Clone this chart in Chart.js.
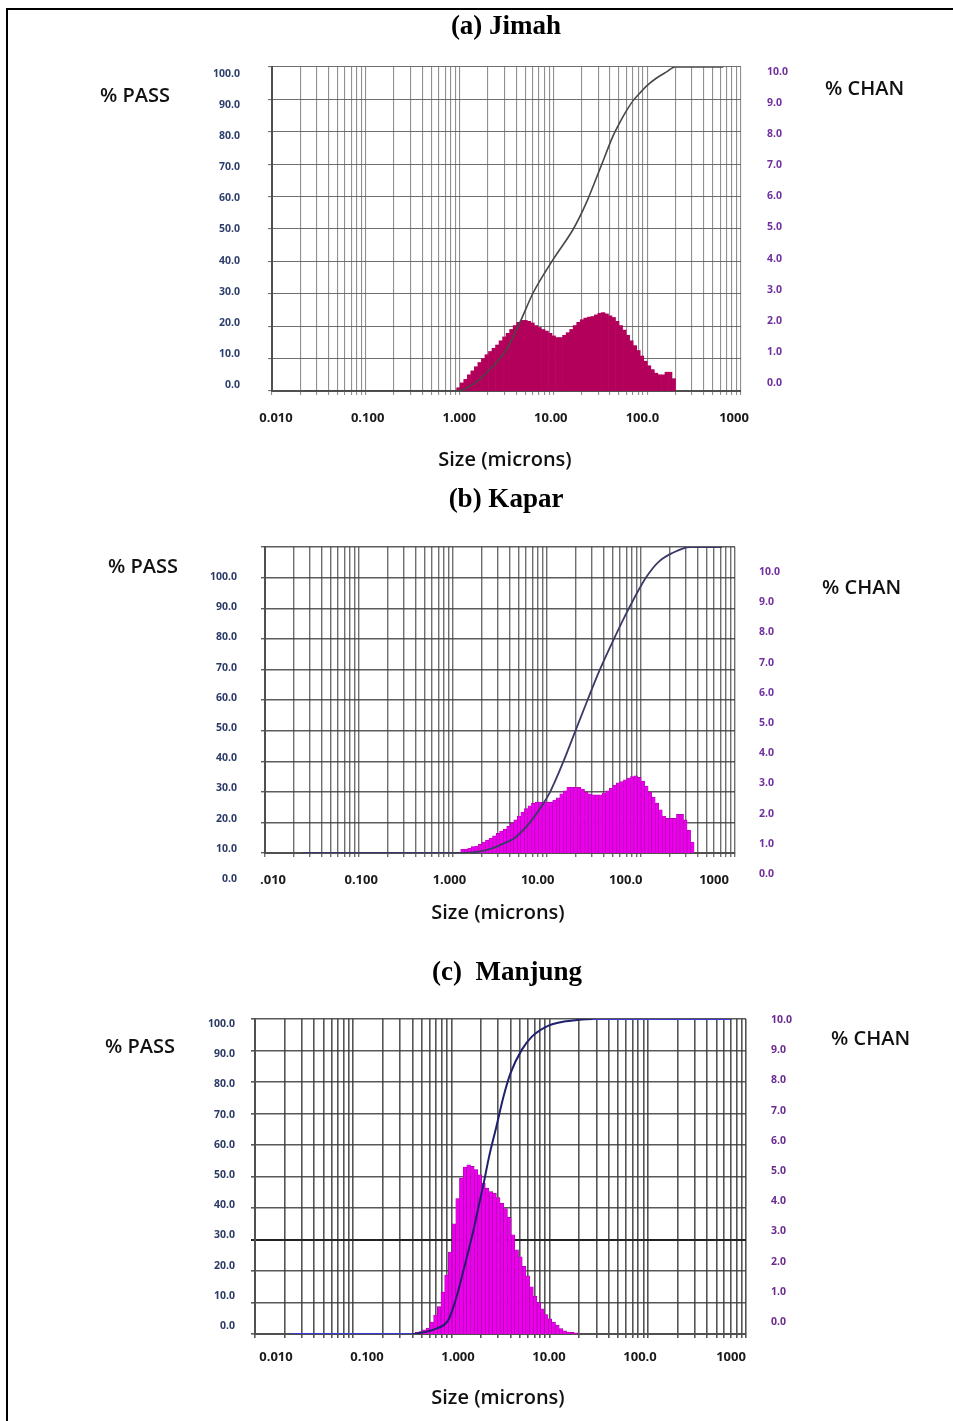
<!DOCTYPE html>
<html>
<head>
<meta charset="utf-8">
<title>Particle size distribution - Jimah, Kapar, Manjung</title>
<script src="https://cdn.jsdelivr.net/npm/chart.js@4.4.1/dist/chart.umd.min.js"></script>
<style>
  html, body { margin: 0; padding: 0; background: #fff; }
  #page { position: relative; width: 953px; height: 1421px; overflow: hidden; background: #fff; }
  #frame { position: absolute; left: 6px; top: 8px; width: 960px; height: 1430px;
           border-top: 2px solid #000; border-left: 2px solid #000; }
  canvas { position: absolute; left: 0; top: 0; }
  .txt { position: absolute; white-space: pre; line-height: 1; color: #111; }
  .ttl { font: bold 27px "Liberation Serif", "Times New Roman", serif; color: #000; transform: translate(-50%, -50%); }
  .lab { font: 600 20px "Open Sans", sans-serif; transform: translateY(-50%); }
  .xlab { font: 600 20px "Open Sans", sans-serif; transform: translate(-50%, -50%); }
</style>
</head>
<body>
<div id="page">
  <div id="frame"></div>
  <canvas id="chartA" width="953" height="1421"></canvas>
  <canvas id="chartB" width="953" height="1421"></canvas>
  <canvas id="chartC" width="953" height="1421"></canvas>

  <div class="txt ttl" style="left:506px;top:25px">(a) Jimah</div>
  <div class="txt lab" style="left:100px;top:94px">% PASS</div>
  <div class="txt lab" style="left:825px;top:87px">% CHAN</div>
  <div class="txt xlab" style="left:505px;top:458px">Size (microns)</div>

  <div class="txt ttl" style="left:506px;top:498px">(b) Kapar</div>
  <div class="txt lab" style="left:108px;top:565px">% PASS</div>
  <div class="txt lab" style="left:822px;top:586px">% CHAN</div>
  <div class="txt xlab" style="left:498px;top:911px">Size (microns)</div>

  <div class="txt ttl" style="left:507px;top:971px">(c)  Manjung</div>
  <div class="txt lab" style="left:105px;top:1045px">% PASS</div>
  <div class="txt lab" style="left:831px;top:1037px">% CHAN</div>
  <div class="txt xlab" style="left:498px;top:1396px">Size (microns)</div>
</div>

<script>
// tick labels
const leftTickVals = [0, 10, 20, 30, 40, 50, 60, 70, 80, 90, 100];
const leftTickText = ['0.0', '10.0', '20.0', '30.0', '40.0', '50.0', '60.0', '70.0', '80.0', '90.0', '100.0'];
const rightTickVals = [0, 1, 2, 3, 4, 5, 6, 7, 8, 9, 10];
const rightTickText = ['0.0', '1.0', '2.0', '3.0', '4.0', '5.0', '6.0', '7.0', '8.0', '9.0', '10.0'];
const sizeTickVals = [0.01, 0.1, 1, 10, 100, 1000];
const sizeTickTextA = ['0.010', '0.100', '1.000', '10.00', '100.0', '1000'];
const sizeTickTextB = ['.010', '0.100', '1.000', '10.00', '100.0', '1000'];
const sizeTickTextC = ['0.010', '0.100', '1.000', '10.00', '100.0', '1000'];
const gridDecades = [0.01, 0.1, 1, 10, 100];
const gridSteps = [1, 2, 3, 4, 5, 6, 7, 8, 9];

// (a) Jimah - channel sizes (um) and % per channel
const chanA = [0.972, 1.06, 1.156, 1.261, 1.375, 1.499, 1.635, 1.783, 1.945, 2.121,
  2.312, 2.522, 2.75, 2.999, 3.27, 3.566, 3.889, 4.241, 4.625, 5.044,
  5.5, 5.998, 6.541, 7.133, 7.778, 8.482, 9.25, 10.09, 11, 12,
  13.08, 14.27, 15.56, 16.96, 18.5, 20.17, 22, 23.99, 26.16, 28.53,
  31.11, 33.93, 37, 40.35, 44, 47.98, 52.33, 57.06, 62.23, 67.86,
  74, 80.7, 88, 95.96, 104.7, 114.1, 124.5, 135.7, 148, 161.4,
  176, 191.9];
const chanPctA = [0.10, 0.25, 0.36, 0.50, 0.62, 0.75, 0.88, 1.00, 1.12, 1.22,
  1.32, 1.42, 1.55, 1.67, 1.78, 1.90, 2.02, 2.12, 2.18, 2.18,
  2.15, 2.10, 2.02, 1.96, 1.90, 1.85, 1.78, 1.70, 1.65, 1.65,
  1.72, 1.80, 1.90, 2.02, 2.12, 2.20, 2.25, 2.28, 2.30, 2.35,
  2.40, 2.42, 2.38, 2.32, 2.27, 2.15, 2.02, 1.88, 1.72, 1.55,
  1.40, 1.25, 1.08, 0.92, 0.78, 0.66, 0.55, 0.50, 0.50, 0.58,
  0.58, 0.38];
const passSizeA = [0.0215, 0.93, 1.40, 2.11, 3.18, 4.40, 6.11, 9.98, 16.3, 22.6, 31.4, 43.5, 51.3, 60.4, 71.1, 83.8, 98.8, 126, 161, 198, 648];
const passPctA  = [0, 0, 2.1, 6.7, 12.9, 21.2, 30.4, 40.7, 50, 58.3, 68.6, 78.9, 83.0, 86.6, 89.7, 92.0, 94.2, 96.6, 98.5, 100, 100];

// (b) Kapar
const chanB = [1.261, 1.375, 1.499, 1.635, 1.783, 1.945, 2.121, 2.312, 2.522, 2.75,
  2.999, 3.27, 3.566, 3.889, 4.241, 4.625, 5.044, 5.5, 5.998, 6.541,
  7.133, 7.778, 8.482, 9.25, 10.09, 11, 12, 13.08, 14.27, 15.56,
  16.96, 18.5, 20.17, 22, 23.99, 26.16, 28.53, 31.11, 33.93, 37,
  40.35, 44, 47.98, 52.33, 57.06, 62.23, 67.86, 74, 80.7, 88,
  95.96, 104.7, 114.1, 124.5, 135.7, 148, 161.4, 176, 191.9, 209.3,
  228.2, 248.9, 271.4, 296, 322.8, 352];
const chanPctB = [0.12, 0.13, 0.16, 0.21, 0.23, 0.29, 0.36, 0.42, 0.49, 0.56,
  0.64, 0.72, 0.78, 0.87, 0.98, 1.08, 1.21, 1.34, 1.45, 1.54,
  1.62, 1.66, 1.66, 1.66, 1.66, 1.66, 1.73, 1.80, 1.93, 2.03,
  2.15, 2.15, 2.15, 2.15, 2.09, 1.99, 1.93, 1.90, 1.90, 1.90,
  1.96, 2.03, 2.12, 2.22, 2.29, 2.33, 2.39, 2.45, 2.50, 2.52,
  2.47, 2.35, 2.19, 1.99, 1.83, 1.63, 1.41, 1.21, 1.13, 1.13,
  1.13, 1.26, 1.26, 1.08, 0.75, 0.36];
const passSizeB = [0.0248, 1.246, 1.94, 2.60, 3.40, 4.57, 6.59, 8.63, 10.8, 15.0, 20.1, 27.0, 36.6, 51.6, 74.5, 113, 152, 214, 332, 728];
const passPctB  = [0, 0, 0.5, 1.5, 3, 5, 10, 15, 20, 30, 40, 50, 60, 70, 80, 90, 95, 98, 100, 100];

// (c) Manjung
const chanC = [0.446, 0.486, 0.53, 0.578, 0.63, 0.688, 0.75, 0.818, 0.891, 0.972,
  1.06, 1.156, 1.261, 1.375, 1.499, 1.635, 1.783, 1.945, 2.121, 2.312,
  2.522, 2.75, 2.999, 3.27, 3.566, 3.889, 4.241, 4.625, 5.044, 5.5,
  5.998, 6.541, 7.133, 7.778, 8.482, 9.25, 10.09, 11, 12, 13.08,
  14.27, 15.56, 16.96, 18.5];
const chanPctC = [0.05, 0.08, 0.13, 0.19, 0.38, 0.60, 0.87, 1.33, 1.87, 2.60,
  3.50, 4.30, 4.95, 5.30, 5.37, 5.32, 5.22, 5.05, 4.78, 4.63,
  4.52, 4.47, 4.33, 4.15, 3.98, 3.70, 3.15, 2.67, 2.45, 2.15,
  1.85, 1.50, 1.20, 1.00, 0.80, 0.62, 0.48, 0.38, 0.28, 0.17,
  0.10, 0.06, 0.05, 0.04];
const passSizeC = [0.0233, 0.40, 0.456, 0.69, 0.93, 1.05, 1.18, 1.33, 1.5, 1.68, 1.89, 2.13, 2.42, 2.87, 3.39, 4.0, 5.2, 6.6, 9.3, 13, 18.3, 27.6, 719];
const passPctC  = [0, 0, 0.2, 1.6, 4.4, 8.7, 14, 20.3, 26.7, 33, 40.4, 47.8, 56.3, 65.8, 75.3, 82.8, 90.2, 94.4, 97.6, 99, 99.6, 100, 100];

// page layout of each panel (pixels)
const PAGE_H = 1421;
const XLAB_H = 50;
const panels = [
  { id: 'chartA', chan: chanA, chanPct: chanPctA, passSize: passSizeA, passPct: passPctA, xText: sizeTickTextA,
    area: {left: 272, right: 741, top: 67, bottom: 391},
    yLab: {p0: 385, p100: 74, x: 240}, yRLab: {p0: 383, p10: 72, x: 767}, xLab: {p0: 276, p1000: 734, y: 418},
    bar: '#b3005b', barEdge: '#b3005b', barEdgeW: 0, line: '#474747', lineW: 1.6, flat: null,
    gridX: 'rgba(125,125,125,0.85)', gridY: 'rgba(95,95,95,0.9)', gridW: 1.1, darkLine: null,
    leftColor: '#2d3f6c', rightColor: '#7030a0' },
  { id: 'chartB', chan: chanB, chanPct: chanPctB, passSize: passSizeB, passPct: passPctB, xText: sizeTickTextB,
    area: {left: 265, right: 735, top: 547, bottom: 853},
    yLab: {p0: 879, p100: 577, x: 237}, yRLab: {p0: 874, p10: 572, x: 759}, xLab: {p0: 273, p1000: 714, y: 880},
    bar: '#ec00ec', barEdge: '#a800a8', barEdgeW: 0.6, line: '#3a3a68', lineW: 1.8, flat: null,
    gridX: 'rgba(75,75,75,0.8)', gridY: 'rgba(65,65,65,0.85)', gridW: 1.4, darkLine: null,
    leftColor: '#2b3a66', rightColor: '#7030a0' },
  { id: 'chartC', chan: chanC, chanPct: chanPctC, passSize: passSizeC, passPct: passPctC, xText: sizeTickTextC,
    area: {left: 255, right: 746, top: 1019, bottom: 1334},
    yLab: {p0: 1326, p100: 1024, x: 235}, yRLab: {p0: 1322, p10: 1020, x: 771}, xLab: {p0: 276, p1000: 731, y: 1357},
    bar: '#ec00ec', barEdge: '#9c009c', barEdgeW: 0.6, line: '#20206e', lineW: 2, flat: '#3b3bd4',
    gridX: 'rgba(55,55,55,0.85)', gridY: 'rgba(60,60,60,0.85)', gridW: 1.6, darkLine: 30,
    leftColor: '#2b3a66', rightColor: '#6a2c91' }
];

// value range of a label axis so that v0 sits at pixel p0 and v1 at p1
function spanAt(v0, p0, v1, p1, pa, pb) {
  const k = (v1 - v0) / (p1 - p0);
  return [v0 + (pa - p0) * k, v0 + (pb - p0) * k];
}

const gridVals = [];
gridDecades.forEach(d => gridSteps.forEach(m => gridVals.push(+(d * m).toPrecision(3))));
gridVals.push(1000);

function drawPanel(p) {
  const a = p.area;
  const yL = spanAt(0, p.yLab.p0, 100, p.yLab.p100, a.bottom, a.top);
  const yR = spanAt(0, p.yRLab.p0, 10, p.yRLab.p10, a.bottom, a.top);
  const xL = spanAt(-2, p.xLab.p0, 3, p.xLab.p1000, a.left, a.right);
  const sideFont = {family: 'Open Sans', weight: 'bold', size: 10.5};

  new Chart(document.getElementById(p.id), {
    type: 'bar',
    data: {
      datasets: [
        {
          type: 'line',
          data: p.passSize.map((s, i) => ({x: s, y: p.passPct[i]})),
          xAxisID: 'x', yAxisID: 'y',
          borderColor: p.line, borderWidth: p.lineW,
          pointRadius: 0, fill: false,
          cubicInterpolationMode: 'monotone',
          segment: {
            borderColor: c => (p.flat && c.p0.parsed.y === c.p1.parsed.y) ? p.flat : undefined
          },
          order: 0
        },
        {
          type: 'bar',
          data: p.chan.map((s, i) => ({x: s, y: p.chanPct[i]})),
          xAxisID: 'x', yAxisID: 'yBar',
          backgroundColor: p.bar, borderColor: p.barEdge, borderWidth: p.barEdgeW,
          barPercentage: 1, categoryPercentage: 1,
          order: 1
        }
      ]
    },
    options: {
      responsive: false,
      animation: false,
      devicePixelRatio: 1,
      events: [],
      layout: {autoPadding: false, padding: {left: 0, right: 0, top: a.top, bottom: PAGE_H - a.bottom - XLAB_H}},
      plugins: {legend: {display: false}, tooltip: {enabled: false}},
      scales: {
        x: {
          type: 'logarithmic', position: 'bottom', min: 0.01, max: 1000, weight: 0,
          offset: false, bounds: 'data',
          afterBuildTicks: s => { s.ticks = gridVals.map(v => ({value: v})); },
          afterFit: s => { s.height = 0; },
          ticks: {display: false},
          grid: {offset: false, color: p.gridX, lineWidth: p.gridW, drawTicks: true, tickLength: 4},
          border: {color: '#505050', width: 2}
        },
        xLab: {
          type: 'logarithmic', position: 'bottom', min: Math.pow(10, xL[0]), max: Math.pow(10, xL[1]), weight: 1,
          offset: false, bounds: 'data',
          afterBuildTicks: s => { s.ticks = sizeTickVals.map(v => ({value: v})); },
          afterFit: s => { s.height = XLAB_H; },
          grid: {display: false, drawTicks: false, offset: false},
          border: {display: false},
          ticks: {
            autoSkip: false, maxRotation: 0, minRotation: 0,
            padding: p.xLab.y - a.bottom - 7.8,
            color: '#1a1a1a', font: {family: 'Open Sans', weight: 'bold', size: 13},
            callback: (v, i) => p.xText[i]
          }
        },
        y: {
          type: 'linear', position: 'left', min: 0, max: 100, weight: 0, beginAtZero: false,
          afterBuildTicks: s => { s.ticks = leftTickVals.map(v => ({value: v})); },
          afterFit: s => { s.width = 0; },
          ticks: {display: false},
          grid: {
            color: c => (p.darkLine !== null && c.tick && c.tick.value === p.darkLine) ? '#222' : p.gridY,
            lineWidth: c => (p.darkLine !== null && c.tick && c.tick.value === p.darkLine) ? 2 : p.gridW,
            drawTicks: true, tickLength: 4
          },
          border: {color: '#505050', width: 2}
        },
        yLab: {
          type: 'linear', position: 'left', min: yL[0], max: yL[1], weight: 1, beginAtZero: false, bounds: 'data',
          afterBuildTicks: s => { s.ticks = leftTickVals.map(v => ({value: v})); },
          afterFit: s => { s.width = a.left; },
          grid: {display: false, drawTicks: false},
          border: {display: false},
          ticks: {autoSkip: false, padding: a.left - p.yLab.x, color: p.leftColor, font: sideFont,
                  callback: (v, i) => leftTickText[i]}
        },
        yBar: {type: 'linear', display: false, min: 0, max: 10, beginAtZero: false},
        yRLab: {
          type: 'linear', position: 'right', min: yR[0], max: yR[1], weight: 1, beginAtZero: false, bounds: 'data',
          afterBuildTicks: s => { s.ticks = rightTickVals.map(v => ({value: v})); },
          afterFit: s => { s.width = 953 - a.right; },
          grid: {display: false, drawTicks: false},
          border: {display: false},
          ticks: {autoSkip: false, padding: p.yRLab.x - a.right, color: p.rightColor, font: sideFont,
                  callback: (v, i) => rightTickText[i]}
        }
      }
    }
  });
}

panels.forEach(drawPanel);
</script>
</body>
</html>
